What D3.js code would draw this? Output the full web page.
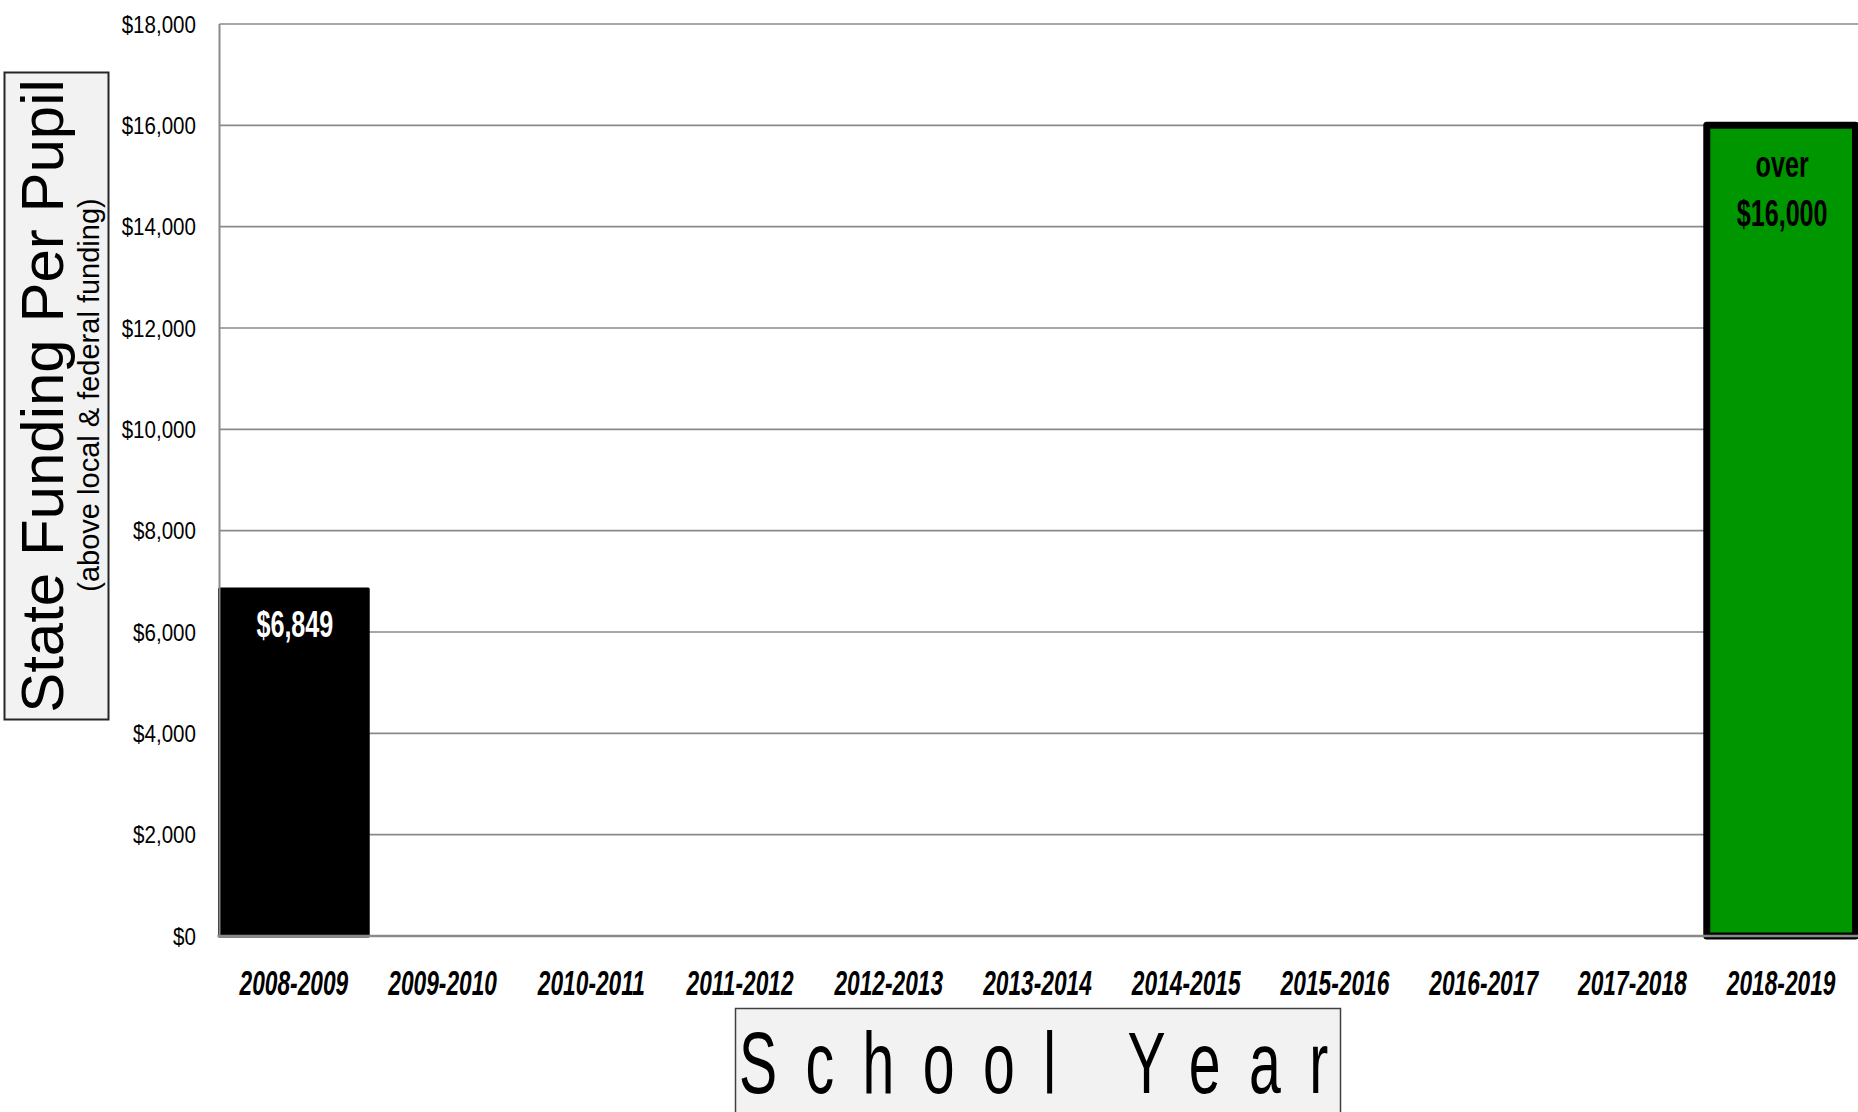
<!DOCTYPE html>
<html>
<head>
<meta charset="utf-8">
<script src="https://cdn.jsdelivr.net/npm/d3@7"></script>
<style>
  html, body { margin: 0; padding: 0; background: #fff; }
  svg { display: block; }
  text { font-family: "Liberation Sans", Arial, sans-serif; }
</style>
</head>
<body>
<svg id="chart" width="1858" height="1112"></svg>
<script>
// ---- data ----
const categories = ["2008-2009","2009-2010","2010-2011","2011-2012","2012-2013","2013-2014","2014-2015","2015-2016","2016-2017","2017-2018","2018-2019"];
const values = [6849, null, null, null, null, null, null, null, null, null, 16000];
const barLabels = [["$6,849"], [], [], [], [], [], [], [], [], [], ["over", "$16,000"]];
const barFill = ["#000000", null, null, null, null, null, null, null, null, null, "#009600"];
const barLabelColor = ["#ffffff", null, null, null, null, null, null, null, null, null, "#000000"];
const yTicks = [0, 2000, 4000, 6000, 8000, 10000, 12000, 14000, 16000, 18000];
const yTitle = "State Funding Per Pupil";
const ySubtitle = "(above local & federal funding)";
const xTitle = "School Year";

// ---- layout ----
const svg = d3.select("#chart");
const plot = { left: 219.5, right: 1855.5, top: 24, bottom: 936 };

const x = d3.scaleBand().domain(categories).range([plot.left, plot.right]).paddingInner(0).paddingOuter(0);
const y = d3.scaleLinear().domain([0, 18000]).range([plot.bottom, plot.top]);
const fmt = d => "$" + d3.format(",")(d);

// gridlines
svg.append("g").selectAll("line").data(yTicks.filter(d => d > 0)).join("line")
  .attr("x1", plot.left).attr("x2", 1858)
  .attr("y1", d => y(d)).attr("y2", d => y(d))
  .attr("stroke", "#8a8a8a").attr("stroke-width", 1.6);

// y tick labels
svg.append("g").selectAll("text").data(yTicks).join("text")
  .attr("transform", d => `translate(196,${y(d) + 8.5}) scale(0.84,1)`)
  .attr("text-anchor", "end")
  .attr("font-size", 24.5)
  .attr("fill", "#000")
  .text(fmt);

// bars
const data = categories.map((c, i) => ({ c, v: values[i], fill: barFill[i], labels: barLabels[i], lc: barLabelColor[i], i }));
const bars = data.filter(d => d.v != null);

svg.append("g").selectAll("rect").data(bars).join("rect")
  .attr("x", d => x(d.c))
  .attr("width", x.bandwidth())
  .attr("y", d => y(d.v))
  .attr("height", d => y(0) - y(d.v))
  .attr("fill", d => d.fill)
  .attr("stroke", "#000")
  .attr("stroke-width", d => d.i === 0 ? 3 : 7)
  .attr("stroke-linejoin", "round");

// axis lines
svg.append("line").attr("x1", plot.left).attr("x2", plot.left).attr("y1", plot.top).attr("y2", plot.bottom)
  .attr("stroke", "#8a8a8a").attr("stroke-width", 2);
svg.append("line").attr("x1", plot.left - 2).attr("x2", 1858).attr("y1", plot.bottom).attr("y2", plot.bottom)
  .attr("stroke", "#8a8a8a").attr("stroke-width", 2.5);

// bar labels
const lab = svg.append("g");
bars.forEach(d => {
  const cx = x(d.c) + x.bandwidth() / 2;
  const offs = d.labels.length === 1 ? [48] : [52, 101];
  d.labels.forEach((t, k) => {
    lab.append("text")
      .attr("transform", `translate(${cx + 1},${y(d.v) + offs[k]}) scale(0.68,1)`)
      .attr("text-anchor", "middle")
      .attr("font-size", 37)
      .attr("font-weight", "bold")
      .attr("fill", d.lc)
      .text(t);
  });
});

// category labels
svg.append("g").selectAll("text").data(categories).join("text")
  .attr("transform", d => `translate(${x(d) + x.bandwidth() / 2},995) scale(0.65,1)`)
  .attr("text-anchor", "middle")
  .attr("font-size", 35)
  .attr("font-weight", "bold")
  .attr("font-style", "italic")
  .attr("fill", "#000")
  .text(d => d);

// y title box
svg.append("rect").attr("x", 4.5).attr("y", 72.5).attr("width", 104).attr("height", 647)
  .attr("fill", "#f2f2f2").attr("stroke", "#262626").attr("stroke-width", 2);
svg.append("text")
  .attr("transform", "translate(63,396) rotate(-90)")
  .attr("text-anchor", "middle")
  .attr("font-size", 60)
  .attr("fill", "#000")
  .text(yTitle);
svg.append("text")
  .attr("transform", "translate(99,395) rotate(-90)")
  .attr("text-anchor", "middle")
  .attr("font-size", 29)
  .attr("fill", "#000")
  .text(ySubtitle);

// x title box
svg.append("rect").attr("x", 735.5).attr("y", 1008.5).attr("width", 605).attr("height", 140)
  .attr("fill", "#f2f2f2").attr("stroke", "#404040").attr("stroke-width", 1.5);
svg.append("text")
  .attr("transform", "translate(739,1093) scale(0.65,1)")
  .attr("text-anchor", "start")
  .attr("font-size", 88)
  .attr("letter-spacing", 43.7)
  .attr("fill", "#000")
  .text(xTitle);
</script>
</body>
</html>
